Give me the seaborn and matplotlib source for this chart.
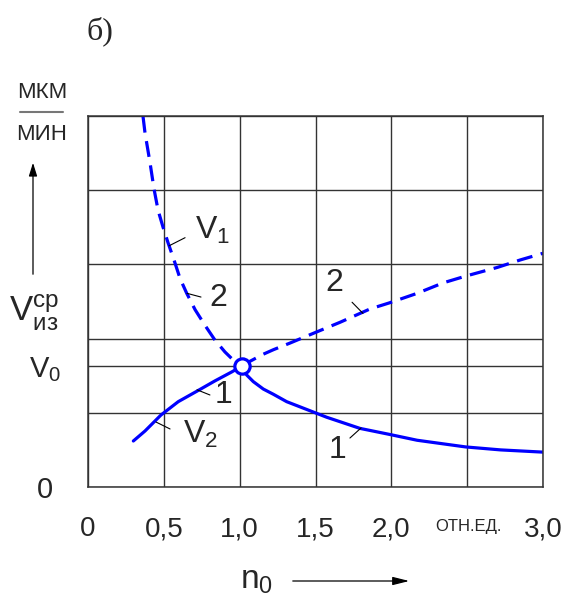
import numpy as np
import pandas as pd
import matplotlib
matplotlib.use('Agg')
import matplotlib.pyplot as plt
from matplotlib import font_manager
import seaborn as sns

# curve 2 (dashed): V1 branch left of the circle, rising branch right of it
n_v1 = [0.363, 0.376, 0.409, 0.435, 0.462, 0.495, 0.528, 0.567, 0.607, 0.651,
        0.706, 0.771, 0.837, 0.903, 0.958, 1.015]
v_v1 = [4.99, 4.77, 4.37, 4.02, 3.73, 3.50, 3.29, 3.06, 2.81, 2.61,
        2.39, 2.18, 1.98, 1.82, 1.71, 1.63]
n_2r = [1.015, 1.046, 1.156, 1.222, 1.332, 1.508, 1.662, 1.86, 1.985, 2.17, 2.34, 2.486, 2.70, 2.85, 3.0]
v_2r = [1.63, 1.67, 1.79, 1.85, 1.94, 2.09, 2.22, 2.40, 2.48, 2.61, 2.75, 2.84, 2.96, 3.06, 3.15]

# curve 1 (solid): V2 branch left of the circle, falling branch right of it
n_v2 = [0.299, 0.376, 0.481, 0.595, 0.717, 0.837, 0.947, 1.015]
v_v2 = [0.62, 0.755, 0.97, 1.15, 1.29, 1.43, 1.55, 1.63]
n_1r = [1.015, 1.046, 1.090, 1.156, 1.222, 1.310, 1.398, 1.486, 1.574, 1.793,
        1.985, 2.17, 2.49, 2.72, 3.0]
v_1r = [1.63, 1.51, 1.42, 1.32, 1.25, 1.15, 1.08, 1.01, 0.94, 0.79,
        0.71, 0.63, 0.54, 0.50, 0.47]

n0 = 1.015
V0 = 1.63

x_ticks = [0, 0.5, 1.0, 1.5, 2.0, 2.5, 3.0]
x_labels = ['0', '0,5', '1,0', '1,5', '2,0', '', '3,0']
unit_label = 'ОТН.ЕД.'
y_ticks = [0, 1, V0, 2, 3, 4, 5]
y_labels = ['0', '', r'$\mathrm{V}_0$', '', '', '', '']

sns.set_style('white')
names = {f.name for f in font_manager.fontManager.ttflist}
narrow = 'Liberation Sans Narrow' if 'Liberation Sans Narrow' in names else 'Liberation Sans'
plt.rcParams['font.family'] = [narrow, 'Liberation Sans', 'DejaVu Sans']
plt.rcParams['mathtext.fontset'] = 'custom'
plt.rcParams['mathtext.rm'] = narrow
plt.rcParams['mathtext.it'] = narrow

W, H = 568, 595
fig = plt.figure(figsize=(W / 100, H / 100), dpi=100)
ax = fig.add_axes([88 / W, 1 - 487 / H, (543 - 88) / W, (487 - 116) / H])

blue = '#0000ff'
dash = (0, (5, 2.7))
lw = 2.3

d2l = pd.DataFrame({'n': n_v1, 'v': v_v1})
d2r = pd.DataFrame({'n': n_2r, 'v': v_2r})
d1l = pd.DataFrame({'n': n_v2, 'v': v_v2})
d1r = pd.DataFrame({'n': n_1r, 'v': v_1r})
for d, ls in [(d2l, dash), (d2r, dash), (d1l, '-'), (d1r, '-')]:
    sns.lineplot(data=d, x='n', y='v', sort=False, estimator=None, color=blue,
                 lw=lw, linestyle=ls, ax=ax)
ax.plot([n0], [V0], 'o', ms=11, mfc='white', mec=blue, mew=2.3, zorder=5)

ax.set_xlim(0, 3)
ax.set_ylim(0, 5)
ax.set_xticks(x_ticks)
ax.set_xticklabels(x_labels)
ax.set_yticks(y_ticks)
ax.set_yticklabels(y_labels)
for t in ax.get_xticklabels():
    t.set_fontsize(20)
for t in ax.get_yticklabels():
    t.set_fontsize(21)
    t.set_ha('center')
ax.tick_params(axis='x', length=0, pad=21)
ax.tick_params(axis='y', length=0, pad=31)
ax.grid(True, color='#333333', lw=1.0)
for s in ax.spines.values():
    s.set_color('#333333')
    s.set_linewidth(1.1)
ax.set_xlabel('')
ax.set_ylabel('')

# curve labels with leader lines
tsz = 23
labels = [
    (r'$\mathrm{V}_1$', 0.705, 3.46, 'left', (0.534, 0.64), (3.25, 3.36)),
    ('2', 0.860, 2.55, 'center', (0.653, 0.745), (2.61, 2.56)),
    ('1', 0.893, 1.24, 'center', (0.719, 0.804), (1.31, 1.24)),
    (r'$\mathrm{V}_2$', 0.626, 0.714, 'left', (0.448, 0.541), (0.876, 0.782)),
    ('2', 1.625, 2.75, 'center', (1.741, 1.813), (2.49, 2.34)),
    ('1', 1.645, 0.50, 'center', (1.727, 1.80), (0.66, 0.795)),
]
for txt, x, y, ha, lx, ly in labels:
    ax.text(x, y, txt, fontsize=tsz, ha=ha, va='center')
    ax.plot(lx, ly, color='black', lw=0.8)


def fx(px):
    return px / W


def fy(py):
    return 1 - py / H


fig.text(fx(468), fy(527), unit_label, fontsize=12, ha='center', va='center')
fig.text(fx(100), fy(31), 'б)', family='Liberation Serif', fontsize=23, ha='center', va='center')
fig.text(fx(42), fy(93), 'МКМ', fontsize=16, ha='center', va='center')
fig.add_artist(plt.Line2D([fx(20), fx(63)], [fy(112), fy(112)], color='#777777', lw=1.5))
fig.text(fx(42), fy(134), 'МИН', fontsize=16, ha='center', va='center')
fig.add_artist(matplotlib.patches.FancyArrowPatch(
    (fx(33), fy(277)), (fx(33), fy(160)), transform=fig.transFigure,
    arrowstyle='-|>,head_length=8,head_width=2.5', color='black', lw=0.9))
fig.text(fx(34), fy(313), r'$\mathrm{V}_{\mathrm{из}}^{\mathrm{ср}}$', fontsize=25,
         ha='center', va='center')

fig.text(fx(257), fy(580), r'$\mathrm{n}_0$', fontsize=24, ha='center', va='center')
fig.add_artist(matplotlib.patches.FancyArrowPatch(
    (fx(290), fy(581)), (fx(412), fy(581)), transform=fig.transFigure,
    arrowstyle='-|>,head_length=10,head_width=2.5', color='black', lw=0.9))

fig.savefig('out.png', dpi=100)
